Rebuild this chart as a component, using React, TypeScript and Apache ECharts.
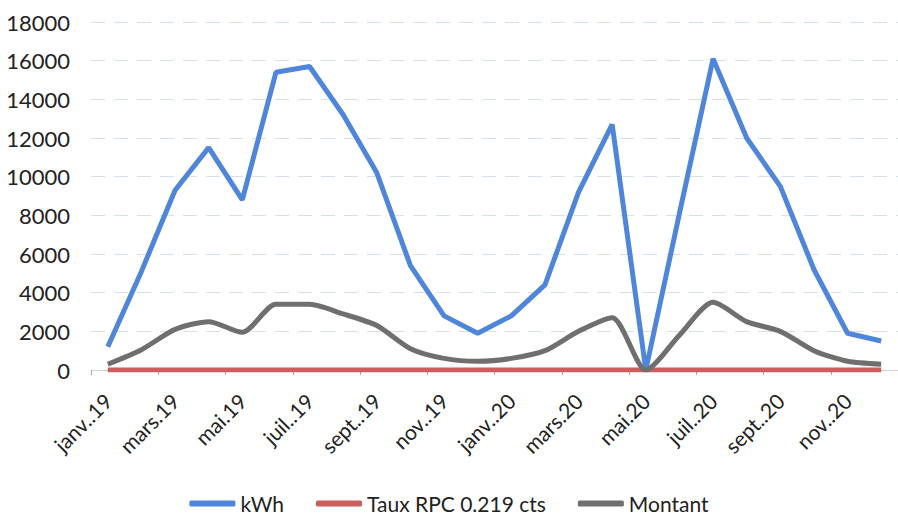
import React, { useEffect, useRef } from "react";
import * as echarts from "echarts";

const categories = [
  "janv..19", "févr..19", "mars.19", "avr..19", "mai.19", "juin.19",
  "juil..19", "août.19", "sept..19", "oct..19", "nov..19", "déc..19",
  "janv..20", "févr..20", "mars.20", "avr..20", "mai.20", "juin.20",
  "juil..20", "août.20", "sept..20", "oct..20", "nov..20", "déc..20",
];

const kwh = [
  1200, 5100, 9300, 11500, 8800, 15400, 15700, 13200, 10200, 5400, 2800, 1900,
  2800, 4400, 9200, 12700, 0, 8100, 16100, 12000, 9500, 5200, 1900, 1500,
];

const taux = [
  0.219, 0.219, 0.219, 0.219, 0.219, 0.219, 0.219, 0.219, 0.219, 0.219, 0.219, 0.219,
  0.219, 0.219, 0.219, 0.219, 0.219, 0.219, 0.219, 0.219, 0.219, 0.219, 0.219, 0.219,
];

const montant = [
  300, 1050, 2100, 2500, 1950, 3400, 3400, 2900, 2300, 1100, 600, 450,
  600, 1000, 2000, 2700, 0, 1800, 3500, 2500, 2000, 1000, 450, 300,
];

const seriesNames = ["kWh", "Taux RPC 0.219 cts", "Montant"];

const FONT = "Lato, 'Liberation Sans', sans-serif";

export default function App() {
  const ref = useRef<HTMLDivElement>(null);

  useEffect(() => {
    if (!ref.current) return;
    const chart = echarts.init(ref.current, undefined, { renderer: "svg" });
    chart.setOption({
      animation: false,
      backgroundColor: "#ffffff",
      textStyle: { fontFamily: FONT },
      grid: { left: 91, right: -4, top: 22, bottom: 151, containLabel: false },
      legend: {
        bottom: 2,
        left: "center",
        itemWidth: 46,
        itemHeight: 6,
        itemGap: 32,
        icon: "roundRect",
        textStyle: { fontSize: 21, color: "#222", fontFamily: FONT },
        data: seriesNames,
      },
      xAxis: {
        type: "category",
        data: categories,
        boundaryGap: true,
        axisLine: { show: true, lineStyle: { color: "#d0d0d0" } },
        axisTick: { show: true, interval: 1, alignWithLabel: false, length: 5, lineStyle: { color: "#aaaaaa" } },
        axisLabel: {
          interval: 1,
          rotate: 45,
          fontSize: 21,
          color: "#222",
          margin: 27,
          fontFamily: FONT,
        },
        splitLine: { show: false },
      },
      yAxis: {
        type: "value",
        min: 0,
        max: 18000,
        interval: 2000,
        axisLine: { show: false },
        axisTick: { show: false },
        axisLabel: {
          fontSize: 22,
          color: "#222",
          margin: 21,
          fontFamily: FONT,
          formatter: (v: number) => String(v),
        },
        splitLine: {
          show: true,
          lineStyle: { color: "#d6e0ea", width: 1, type: [14, 9] },
        },
      },
      series: [
        {
          name: seriesNames[0],
          type: "line",
          data: kwh,
          symbol: "none",
          smooth: false,
          color: "#4f86d9",
          lineStyle: { color: "#4f86d9", width: 5 },
          z: 3,
        },
        {
          name: seriesNames[1],
          type: "line",
          data: taux,
          symbol: "none",
          color: "#cc5e5e",
          lineStyle: { color: "#cc5e5e", width: 5 },
          z: 2,
        },
        {
          name: seriesNames[2],
          type: "line",
          data: montant,
          symbol: "none",
          smooth: 0.25,
          color: "#6f6f6f",
          lineStyle: { color: "#6f6f6f", width: 5 },
          z: 4,
        },
      ],
    });
    return () => chart.dispose();
  }, []);

  return (
    <div
      ref={ref}
      style={{ position: "absolute", left: 0, top: 0, width: 898, height: 521 }}
    />
  );
}
